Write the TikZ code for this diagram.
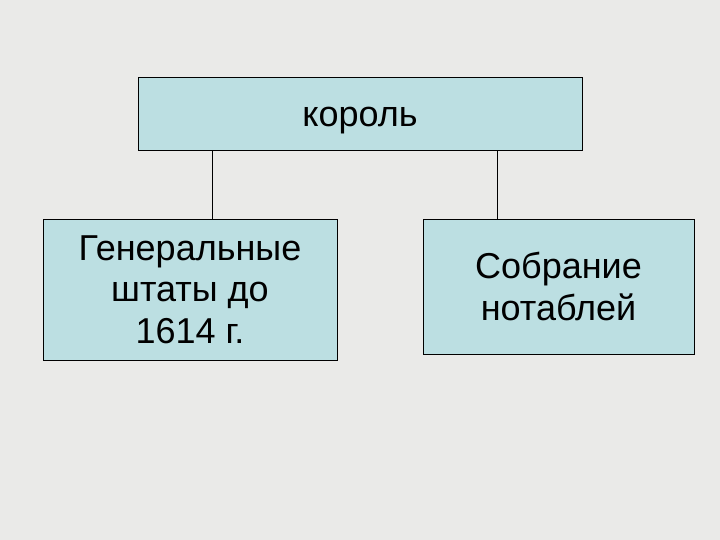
\documentclass[tikz,border=0pt]{standalone}
\usepackage{fontspec}
\setmainfont{Liberation Sans}
\definecolor{bgcol}{RGB}{234,234,232}
\definecolor{boxcol}{RGB}{188,223,226}
\tikzset{
  box/.style={draw=black, line width=0.9pt, fill=boxcol, inner sep=0pt, align=center,
    font=\fontsize{36}{41.5}\selectfont},
  link/.style={draw=black, line width=0.7pt}
}
\begin{document}
\begin{tikzpicture}[x=1pt,y=-1pt]
\fill[bgcol] (0,0) rectangle (720,540);
\useasboundingbox (0,0) rectangle (720,540);
\coordinate (kl) at (212,150);
\coordinate (kr) at (497,150);
\node[box, minimum width=444pt, minimum height=73pt, text height=27pt, text depth=0pt] (king) at (360,113.5) {король};
\node[box, minimum width=294pt, minimum height=141pt] (gen) at (190,289.5) {Генеральные\\штаты до\\1614 г.};
\node[box, minimum width=271pt, minimum height=135pt] (not) at (558.5,286.5) {Собрание\\нотаблей};
\draw[link] (king.south -| kl) -- (gen.north -| kl);
\draw[link] (king.south -| kr) -- (not.north -| kr);
\end{tikzpicture}
\end{document}
